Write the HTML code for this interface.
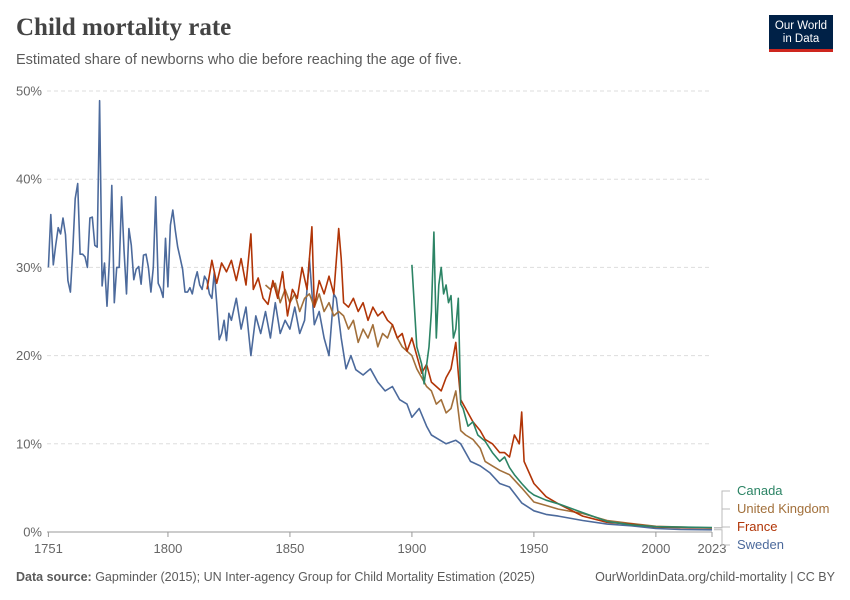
<!DOCTYPE html>
<html><head><meta charset="utf-8"><style>
body{margin:0;background:#fff;font-family:"Liberation Sans",sans-serif;}
#wrap{position:relative;width:850px;height:600px;overflow:hidden;}
</style></head><body>
<div id="wrap">
<div style="position:absolute;left:16px;top:14px;font-family:'Liberation Serif',serif;font-size:25px;font-weight:bold;color:#444;">Child mortality rate</div>
<div style="position:absolute;left:16px;top:52px;font-size:14.5px;color:#5b5b5b;">Estimated share of newborns who die before reaching the age of five.</div>
<div style="position:absolute;left:769px;top:15px;width:64px;height:37px;background:#002147;border-bottom:3px solid #ce261e;box-sizing:border-box;color:#fff;font-size:11.5px;line-height:13px;text-align:center;padding-top:5px;">Our World<br>in Data</div>
<svg id="chart" width="850" height="600" style="position:absolute;left:0;top:0"></svg>
<div style="position:absolute;left:16px;top:570px;font-size:12.5px;color:#5b5b5b;"><b>Data source:</b> Gapminder (2015); UN Inter-agency Group for Child Mortality Estimation (2025)</div>
<div style="position:absolute;right:15px;top:570px;font-size:12.5px;color:#5b5b5b;">OurWorldinData.org/child-mortality | CC BY</div>
</div>
<script>
const yTicks=[0,10,20,30,40,50];
const xTicks=[1751,1800,1850,1900,1950,2000,2023];
const swedenYears=[1751,1752,1753,1754,1755,1756,1757,1758,1759,1760,1761,1762,1763,1764,1765,1766,1767,1768,1769,1770,1771,1772,1773,1774,1775,1776,1777,1778,1779,1780,1781,1782,1783,1784,1785,1786,1787,1788,1789,1790,1791,1792,1793,1794,1795,1796,1797,1798,1799,1800,1801,1802,1803,1804,1805,1806,1807,1808,1809,1810,1811,1812,1813,1814,1815,1816,1817,1818,1819,1820,1821,1822,1823,1824,1825,1826,1828,1830,1832,1834,1836,1838,1840,1842,1844,1846,1848,1850,1852,1854,1856,1857,1858,1860,1862,1864,1866,1868,1869,1871,1873,1875,1877,1880,1883,1886,1889,1892,1895,1898,1900,1903,1906,1908,1911,1914,1918,1920,1924,1928,1932,1936,1940,1945,1950,1955,1960,1970,1980,1990,2000,2010,2023];
const swedenValues=[30.0,36,30.3,32.5,34.5,33.8,35.6,33.7,28.5,27.2,32,37.8,39.5,31.5,31.5,31.2,30,35.6,35.7,32.5,32.3,48.9,27.9,30.5,25.6,30.8,39.3,26,30,30,38,32,27,34.4,32.5,28.6,29.8,30.1,28.1,31.4,31.5,30,27.2,30,38,28.2,27.6,26.6,33.3,27.8,34.8,36.5,34.2,32.3,31.1,29.8,27.2,27.2,27.7,27,28.5,29.5,28,27.5,29,28.5,27,26.5,29.5,26,21.8,22.5,24,21.7,24.8,24,26.5,23,25.5,20,24.5,22.5,25,22,26,22.5,24,23,25.5,22.5,24,27.5,31,23.5,25,22,20,27,26.5,22,18.5,20,18.4,17.8,18.5,17,16,16.5,15,14.5,13,14,12,11,10.5,10,10.4,10,8,7.5,6.7,5.5,5.1,3.3,2.4,2.0,1.8,1.3,0.9,0.7,0.4,0.3,0.25];
const franceYears=[1816,1818,1820,1822,1824,1826,1828,1830,1832,1834,1835,1837,1839,1841,1843,1845,1847,1849,1851,1853,1855,1857,1859,1860,1862,1864,1866,1868,1870,1871,1872,1874,1876,1878,1880,1882,1884,1886,1888,1890,1892,1894,1896,1898,1900,1902,1904,1906,1908,1910,1912,1914,1916,1918,1919,1920,1922,1925,1928,1930,1933,1936,1938,1940,1942,1944,1945,1946,1950,1955,1960,1970,1980,1990,2000,2010,2023];
const franceValues=[27.5,30.8,28.2,30.5,29.5,30.8,28.5,31,28,33.8,27.5,28.8,26.5,25.8,28.5,26.5,29.5,24.5,27.5,26.5,30,27.5,34.6,25.5,28.5,27,29,27,34.4,31,26,25.5,26.5,25,26,24,25.5,24.5,25,24,23.5,22,22.5,20.5,22,20,18,19,17,16.5,16,17.5,18.5,21.5,18,15,14,12.5,11.5,10.5,10,9,9,8.5,11,10,13.6,8,5.5,4,3.2,1.8,1.1,0.9,0.55,0.5,0.45];
const ukYears=[1840,1842,1844,1846,1848,1850,1852,1854,1856,1858,1860,1862,1864,1866,1868,1870,1872,1874,1876,1878,1880,1882,1884,1886,1888,1890,1892,1894,1896,1898,1900,1902,1904,1906,1908,1910,1912,1914,1916,1918,1920,1922,1925,1928,1930,1933,1936,1940,1945,1950,1955,1960,1970,1980,1990,2000,2010,2023];
const ukValues=[28,27.5,28.2,26,27.5,26,27,25,26.5,27,25.5,27,25,26,24.5,25,24.5,23,24,21.5,23,22,23.5,21,22.5,22,23.5,22,21,20.5,20,18.5,17.5,16.5,16,14.5,15,13.5,14,16,11.5,11,10.5,9.5,8,7.5,7,6.5,5,3.4,3.0,2.6,2.1,1.3,0.95,0.65,0.55,0.45];
const canadaYears=[1900,1902,1904,1905,1907,1908,1909,1910,1911,1912,1913,1914,1915,1916,1917,1918,1919,1920,1921,1923,1925,1927,1930,1933,1936,1938,1940,1942,1945,1948,1950,1955,1960,1970,1980,1990,2000,2010,2023];
const canadaValues=[30.3,21,19,16.8,21,25,34,22,28,30,27,28,26,26.8,22,23,26.5,14.5,14,12,12.5,11,10.3,9,8,8.5,7.3,6.5,5.5,4.6,4.2,3.6,3.2,2.2,1.2,0.8,0.6,0.55,0.5];

const svg=document.getElementById('chart');
const NS='http://www.w3.org/2000/svg';
const X0=48.4,X1=712,Y0=532,Y1=91;
function xs(yr){return X0+(yr-1751)/(2023-1751)*(X1-X0);}
function ys(v){return Y0-v/50*(Y0-Y1);}
function mk(tag,attrs){const e=document.createElementNS(NS,tag);for(const k in attrs)e.setAttribute(k,attrs[k]);svg.appendChild(e);return e;}

yTicks.forEach(t=>{
  const g=mk('line',{x1:47,x2:712,y1:ys(t),y2:ys(t),stroke:t===0?'#999':'#ddd','stroke-dasharray':t===0?'':'4,3','stroke-width':1});
  
  
  const l=mk('text',{x:42,y:ys(t)+4.5,'text-anchor':'end','font-size':13,fill:'#666','font-family':'Liberation Sans'});
  l.textContent=t+'%';
  
  
});
xTicks.forEach(t=>{
  const tk=mk('line',{x1:xs(t),x2:xs(t),y1:532,y2:537,stroke:'#999'});
  
  
  const l=mk('text',{x:xs(t),y:553,'text-anchor':'middle','font-size':13,fill:'#666','font-family':'Liberation Sans'});
  l.textContent=t;
  
  
});
function line(years,vals,color,name){
  const d=years.map((y,i)=>(i?'L':'M')+xs(y).toFixed(1)+','+ys(vals[i]).toFixed(1)).join(' ');
  const p=mk('path',{d:d,fill:'none',stroke:color,'stroke-width':1.6,'stroke-linejoin':'round'});
  
  
}
line(swedenYears,swedenValues,'#4c6a9c','sweden-line');
line(ukYears,ukValues,'#a2703b','uk-line');
line(franceYears,franceValues,'#b13507','france-line');
line(canadaYears,canadaValues,'#2c8465','canada-line');

const legend=[['Canada','#2c8465',495,canadaValues],['United Kingdom','#a2703b',513,ukValues],['France','#b13507',531,franceValues],['Sweden','#4c6a9c',549,swedenValues]];
legend.forEach(([n,c,y,vals])=>{
  const ey=ys(vals[vals.length-1]);
  const ln=mk('path',{d:`M714,${ey} L722,${ey} L722,${y-4} L730,${y-4}`,fill:'none',stroke:'#bbb','stroke-width':1});
  
  
  const t=mk('text',{x:737,y:y,'font-size':13,fill:c,'font-family':'Liberation Sans'});
  t.textContent=n;
  
  
});
</script>
</body></html>
